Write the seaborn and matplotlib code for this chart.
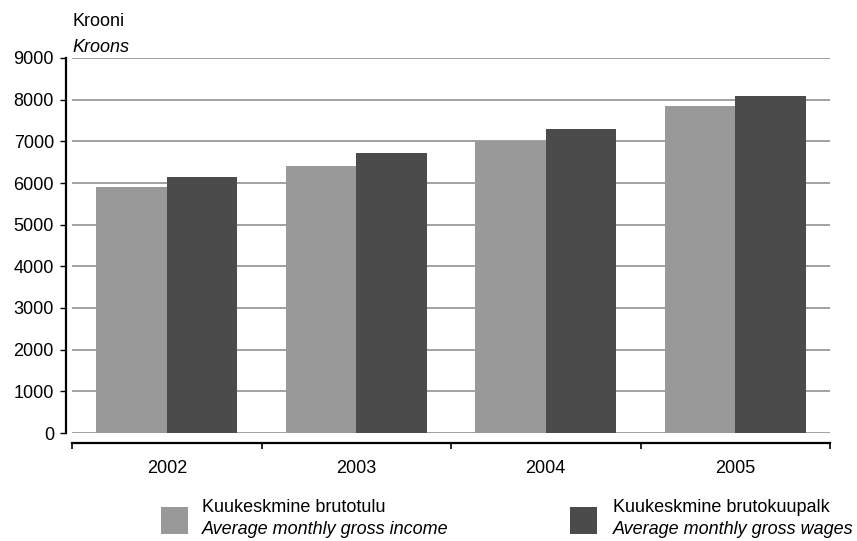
import matplotlib
matplotlib.use("Agg")
import matplotlib.pyplot as plt
from matplotlib.patches import Rectangle
from matplotlib.ticker import FixedLocator, MultipleLocator
import pandas as pd
import seaborn as sns

years = ["2002", "2003", "2004", "2005"]
income = [5910, 6410, 7000, 7850]
wages = [6150, 6710, 7300, 8090]
series_et = ["Kuukeskmine brutotulu", "Kuukeskmine brutokuupalk"]
series_en = ["Average monthly gross income", "Average monthly gross wages"]
colors = ["#999999", "#4b4b4b"]

df = pd.DataFrame({
    "year": years * 2,
    "value": income + wages,
    "series": [series_et[0]] * len(years) + [series_et[1]] * len(years),
})

sns.set_theme(style="white")
plt.rcParams["font.family"] = ["Liberation Sans", "DejaVu Sans"]
plt.rcParams["text.color"] = "black"
FS = 13

W, H = 857, 541
fig = plt.figure(figsize=(W / 100, H / 100), dpi=100)
ax = fig.add_axes([72 / W, 1 - 433 / H, (830 - 72) / W, (433 - 58) / H])

sns.barplot(data=df, x="year", y="value", hue="series", palette=colors,
            width=0.746, saturation=1, linewidth=0, edgecolor="none",
            ax=ax, legend=False)

ax.set_xlim(-0.5, len(years) - 0.5)
ax.set_ylim(0, 9000)
ax.yaxis.set_major_locator(MultipleLocator(1000))
ax.set_axisbelow(True)
ax.yaxis.grid(True, color="#9a9a9a", linewidth=1.3)
ax.xaxis.grid(False)

for side in ["top", "right"]:
    ax.spines[side].set_visible(False)
ax.spines["left"].set_position(("outward", 4.5))
ax.spines["left"].set_linewidth(1.6)
ax.spines["left"].set_color("black")
ax.spines["bottom"].set_position(("outward", 7.2))
ax.spines["bottom"].set_linewidth(1.6)
ax.spines["bottom"].set_color("black")

ax.tick_params(axis="y", which="major", left=True, direction="out", length=4.5,
               width=1.0, color="black", labelsize=FS, pad=4, labelcolor="black")
ax.xaxis.set_minor_locator(FixedLocator([i - 0.5 for i in range(len(years) + 1)]))
ax.tick_params(axis="x", which="major", bottom=True, length=0, labelsize=FS,
               pad=12, labelcolor="black")
ax.tick_params(axis="x", which="minor", bottom=True, direction="out", length=4.5,
               width=1.2, color="black")
ax.set_xlabel("")
ax.set_ylabel("")

fig.text(72 / W, 1 - 22 / H, "Krooni", fontsize=FS, va="center", ha="left")
fig.text(72 / W, 1 - 47 / H, "Kroons", fontsize=FS, va="center", ha="left",
         style="italic")

# legend swatches with two-line bilingual labels
swatch_x = [161, 570]
text_x = [202, 613]
for i in range(2):
    fig.add_artist(Rectangle((swatch_x[i] / W, 1 - 534 / H), 27 / W, 27 / H,
                             transform=fig.transFigure, facecolor=colors[i],
                             edgecolor="none"))
    fig.text(text_x[i] / W, 1 - 507 / H, series_et[i], fontsize=FS,
             va="center", ha="left")
    fig.text(text_x[i] / W, 1 - 529 / H, series_en[i], fontsize=FS,
             va="center", ha="left", style="italic")

fig.savefig("out.png", dpi=100, facecolor="white")
